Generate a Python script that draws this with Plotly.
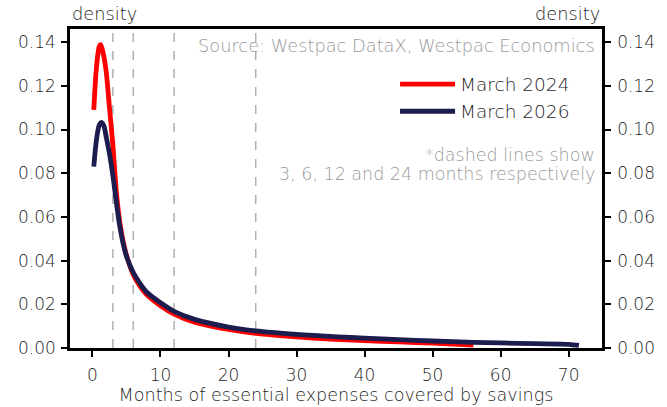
import plotly.graph_objects as go

# ---- data ----
months_2024 = [0.2, 0.5, 0.8, 1.0, 1.2, 1.5, 2.0, 2.5, 3.0, 3.5, 4.0, 4.5, 5.0, 6.0, 7.0, 8.0,
               10.0, 12.0, 15.0, 20.0, 24.0, 30.0, 35.0, 40.0, 45.0, 50.0, 56.0]
density_2024 = [0.109, 0.125, 0.1345, 0.138, 0.1388, 0.136, 0.127, 0.110, 0.093, 0.072, 0.058,
                0.049, 0.0425, 0.0335, 0.0282, 0.0243, 0.0193, 0.0155, 0.0118, 0.0085, 0.0067,
                0.0051, 0.0041, 0.0034, 0.0028, 0.0022, 0.0013]

months_2026 = [0.2, 0.5, 0.8, 1.0, 1.35, 1.7, 2.0, 2.5, 3.0, 3.5, 4.0, 4.5, 5.0, 6.0, 7.0, 8.0,
               10.0, 12.0, 15.0, 20.0, 24.0, 30.0, 36.0, 40.0, 45.0, 50.0, 56.0, 60.0, 65.0,
               70.0, 71.5]
density_2026 = [0.083, 0.093, 0.0995, 0.102, 0.1033, 0.1015, 0.097, 0.089, 0.079, 0.067, 0.056,
                0.048, 0.042, 0.0345, 0.0295, 0.0255, 0.0207, 0.0168, 0.0131, 0.0096, 0.0078,
                0.0062, 0.0051, 0.0045, 0.0038, 0.0032, 0.0026, 0.0023, 0.0020, 0.0017, 0.0012]

dashed_months = [3, 6, 12, 24]
x_ticks = [0, 10, 20, 30, 40, 50, 60, 70]
y_ticks = [0.00, 0.02, 0.04, 0.06, 0.08, 0.10, 0.12, 0.14]
y_tick_labels = ["0.00", "0.02", "0.04", "0.06", "0.08", "0.10", "0.12", "0.14"]

FONT = "DejaVu Sans"
W = 200
TXT = "#1e1e1e"
GREY = "#999999"

fig = go.Figure()
fig.add_trace(go.Scatter(x=months_2024, y=density_2024, mode="lines", name="March 2024",
                         line=dict(color="#ff0000", width=4.8, shape="spline", smoothing=0.8)))
fig.add_trace(go.Scatter(x=months_2026, y=density_2026, mode="lines", name="March 2026",
                         line=dict(color="#1c1c4e", width=4.8, shape="spline", smoothing=0.8)))
# invisible trace to activate the right-hand axis
fig.add_trace(go.Scatter(x=months_2026, y=density_2026, yaxis="y2", mode="lines",
                         line=dict(width=0), opacity=0, showlegend=False, hoverinfo="skip"))

for m in dashed_months:
    fig.add_shape(type="line", x0=m, x1=m, y0=0, y1=1, xref="x", yref="paper",
                  line=dict(color="#b0b0b0", width=1.5, dash="dash"), layer="below")

xr = [-3.3, 74.9]
yr = [0, 0.146]
axis_common = dict(showline=True, linecolor="black", linewidth=2.5, ticks="outside",
                   ticklen=6, tickwidth=1.5, tickcolor="black", showgrid=False, zeroline=False,
                   automargin=False,
                   tickfont=dict(family=FONT, size=17, color=TXT, weight=W))

fig.update_layout(
    width=667, height=407,
    margin=dict(l=70, r=65, t=29, b=59),
    plot_bgcolor="white", paper_bgcolor="white",
    font=dict(family=FONT, color=TXT, weight=W),
    xaxis=dict(range=xr, tickvals=x_ticks, mirror=True, ticklabelstandoff=4,
               title=dict(text="Months of essential expenses covered by savings",
                          font=dict(family=FONT, size=17.6, color=TXT, weight=W), standoff=4),
               **axis_common),
    yaxis=dict(range=yr, tickvals=y_ticks, ticktext=y_tick_labels, ticklabelstandoff=2,
               **axis_common),
    yaxis2=dict(range=yr, tickvals=y_ticks, ticktext=y_tick_labels, overlaying="y",
                side="right", ticklabelstandoff=3, **axis_common),
    legend=dict(x=0.611, y=0.885, xanchor="left", yanchor="top", bgcolor="rgba(0,0,0,0)",
                font=dict(family=FONT, size=18.5, color=TXT, weight=W), itemwidth=55,
                tracegroupgap=0),
    showlegend=True,
)

fig.add_annotation(text="density", xref="paper", yref="paper", x=0, y=1, xanchor="left",
                   yanchor="middle", showarrow=False, yshift=16,
                   font=dict(family=FONT, size=17.8, color=TXT, weight=W))
fig.add_annotation(text="density", xref="paper", yref="paper", x=1, y=1, xanchor="right",
                   yanchor="middle", showarrow=False, yshift=16,
                   font=dict(family=FONT, size=17.8, color=TXT, weight=W))
fig.add_annotation(text="Source: Westpac DataX, Westpac Economics", xref="paper", yref="paper",
                   x=0.99, y=0.947, xanchor="right", yanchor="middle", showarrow=False,
                   font=dict(family=FONT, size=17.8, color=GREY, weight=W))
fig.add_annotation(text="*dashed lines show",
                   xref="paper", yref="paper", x=0.99, y=1 - (155 - 29) / 319, xanchor="right",
                   yanchor="middle", showarrow=False,
                   font=dict(family=FONT, size=17.5, color=GREY, weight=W))
fig.add_annotation(text="3, 6, 12 and 24 months respectively",
                   xref="paper", yref="paper", x=0.99, y=1 - (174 - 29) / 319, xanchor="right",
                   yanchor="middle", showarrow=False,
                   font=dict(family=FONT, size=17.5, color=GREY, weight=W))

fig.write_html("out.html", config={"displayModeBar": False},
               post_script="document.body.style.margin='0';")
